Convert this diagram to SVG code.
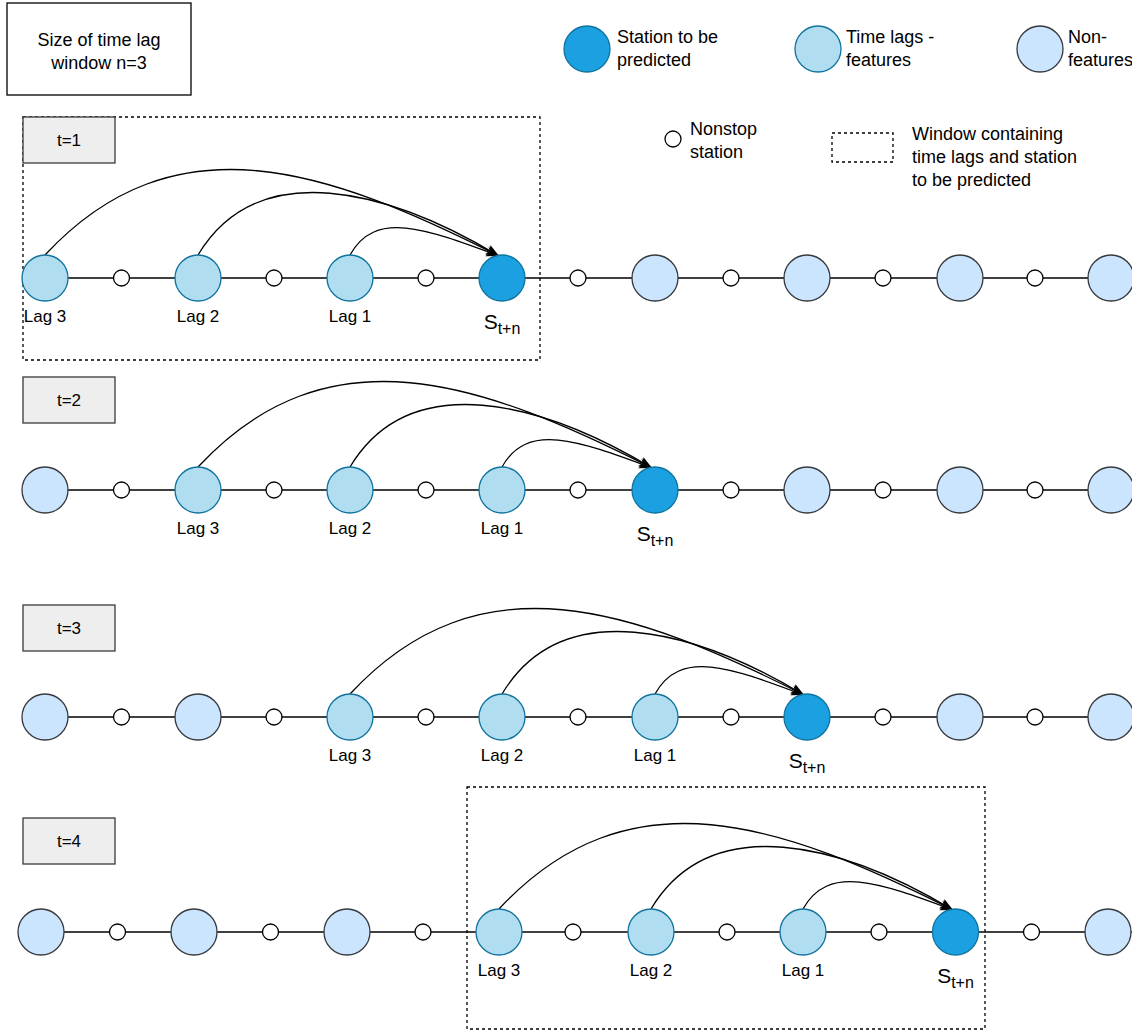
<svg xmlns="http://www.w3.org/2000/svg" width="1132" height="1031" viewBox="0 0 1132 1031">
<style>
text{font-family:"Liberation Sans",Arial,Helvetica,sans-serif;fill:#000}
.lg{font-size:18px}
.lb{font-size:17px;text-anchor:middle}
.tl{font-size:17px;text-anchor:middle}
.pred{fill:#1ba1e2;stroke:#10739e;stroke-width:1.3}
.lag{fill:#b1ddf0;stroke:#10739e;stroke-width:1.3}
.non{fill:#cce5ff;stroke:#36393d;stroke-width:1.3}
.stop{fill:#fff;stroke:#000;stroke-width:1.3}
.tbox{fill:#eeeeee;stroke:#36393d;stroke-width:1.3}
.win{fill:none;stroke:#000;stroke-width:1.3;stroke-dasharray:3 3}
.track{stroke:#000;stroke-width:1.3;fill:none}
.arc{stroke:#000;stroke-width:1.3;fill:none;marker-end:url(#arr)}
</style>
<defs>
<marker id="arr" markerWidth="14" markerHeight="11" refX="13" refY="5" orient="auto" markerUnits="userSpaceOnUse">
<path d="M0,0 L13,5 L0,10 L3.5,5 Z" fill="#000"/>
</marker>
</defs>
<rect width="1132" height="1031" fill="#fff"/>

<!-- Legend -->
<g id="legend-size">
<rect x="7" y="3" width="184" height="92" fill="#fff" stroke="#000" stroke-width="1.3"/>
<text class="lg" x="99" y="46" text-anchor="middle">Size of time lag</text>
<text class="lg" x="99" y="69" text-anchor="middle">window n=3</text>
</g>
<g id="legend-pred">
<ellipse class="pred" cx="587" cy="49" rx="23" ry="23"/>
<text class="lg" x="617" y="43">Station to be</text>
<text class="lg" x="617" y="66">predicted</text>
</g>
<g id="legend-lag">
<ellipse class="lag" cx="818" cy="49" rx="23" ry="23"/>
<text class="lg" x="846" y="43">Time lags -</text>
<text class="lg" x="846" y="66">features</text>
</g>
<g id="legend-non">
<ellipse class="non" cx="1040" cy="49" rx="23" ry="23"/>
<text class="lg" x="1068" y="43">Non-</text>
<text class="lg" x="1068" y="66">features</text>
</g>
<g id="legend-stop">
<circle class="stop" cx="673" cy="139" r="8"/>
<text class="lg" x="690" y="135">Nonstop</text>
<text class="lg" x="690" y="158">station</text>
</g>
<g id="legend-window">
<rect class="win" x="832" y="133" width="61" height="29"/>
<text class="lg" x="912" y="140">Window containing</text>
<text class="lg" x="912" y="163">time lags and station</text>
<text class="lg" x="912" y="186">to be predicted</text>
</g>

<!-- Windows -->
<g id="window-t1"><rect class="win" x="23" y="117" width="517" height="243"/></g>
<g id="window-t4"><rect class="win" x="467" y="787" width="518" height="242"/></g>

<!-- Track lines and arcs -->
<g id="connectors">
<line class="track" x1="45" y1="278" x2="1132" y2="278"/>
<line class="track" x1="45" y1="490" x2="1132" y2="490"/>
<line class="track" x1="45" y1="717" x2="1132" y2="717"/>
<line class="track" x1="41" y1="932" x2="1132" y2="932"/>
<!-- row 1 -->
<path class="arc" d="M45,255 C175,115 329,170 499,256"/>
<path class="arc" d="M198,255 C258,155 389,190 499,256"/>
<path class="arc" d="M350,255 C375,210 424,228 499,256"/>
<!-- row 2 -->
<path class="arc" d="M198,467 C328,327 482,382 652,468"/>
<path class="arc" d="M350,467 C410,367 542,402 652,468"/>
<path class="arc" d="M502,467 C527,422 577,440 652,468"/>
<!-- row 3 -->
<path class="arc" d="M350,694 C480,554 634,609 804,695"/>
<path class="arc" d="M502,694 C562,594 694,629 804,695"/>
<path class="arc" d="M655,694 C680,649 729,667 804,695"/>
<!-- row 4 -->
<path class="arc" d="M499,909 C629,769 783,824 953,910"/>
<path class="arc" d="M651,909 C711,809 843,844 953,910"/>
<path class="arc" d="M803,909 C828,864 878,882 953,910"/>
</g>

<!-- Time step labels -->
<g id="t1"><rect class="tbox" x="23" y="117" width="92" height="46"/><text class="tl" x="69" y="146">t=1</text></g>
<g id="t2"><rect class="tbox" x="23" y="377" width="92" height="46"/><text class="tl" x="69" y="406">t=2</text></g>
<g id="t3"><rect class="tbox" x="23" y="605" width="92" height="46"/><text class="tl" x="69" y="634">t=3</text></g>
<g id="t4"><rect class="tbox" x="23" y="818" width="92" height="46"/><text class="tl" x="69" y="847">t=4</text></g>

<!-- Row 1 -->
<g id="row1-stops">
<circle class="stop" cx="121.5" cy="278" r="8"/><circle class="stop" cx="274" cy="278" r="8"/><circle class="stop" cx="426" cy="278" r="8"/><circle class="stop" cx="578" cy="278" r="8"/><circle class="stop" cx="731" cy="278" r="8"/><circle class="stop" cx="883" cy="278" r="8"/><circle class="stop" cx="1035" cy="278" r="8"/>
</g>
<g id="r1-lag3"><ellipse class="lag" cx="45" cy="278" rx="23" ry="23"/><text class="lb" x="45" y="322">Lag 3</text></g>
<g id="r1-lag2"><ellipse class="lag" cx="198" cy="278" rx="23" ry="23"/><text class="lb" x="198" y="322">Lag 2</text></g>
<g id="r1-lag1"><ellipse class="lag" cx="350" cy="278" rx="23" ry="23"/><text class="lb" x="350" y="322">Lag 1</text></g>
<g id="r1-s"><ellipse class="pred" cx="502" cy="278" rx="23" ry="23"/><text x="502" y="329" text-anchor="middle" font-size="21">S<tspan font-size="16" dy="5">t+n</tspan></text></g>
<g id="r1-n1"><ellipse class="non" cx="655" cy="278" rx="23" ry="23"/></g>
<g id="r1-n2"><ellipse class="non" cx="807" cy="278" rx="23" ry="23"/></g>
<g id="r1-n3"><ellipse class="non" cx="960" cy="278" rx="23" ry="23"/></g>
<g id="r1-n4"><ellipse class="non" cx="1111" cy="278" rx="23" ry="23"/></g>

<!-- Row 2 -->
<g id="row2-stops">
<circle class="stop" cx="121.5" cy="490" r="8"/><circle class="stop" cx="274" cy="490" r="8"/><circle class="stop" cx="426" cy="490" r="8"/><circle class="stop" cx="578" cy="490" r="8"/><circle class="stop" cx="731" cy="490" r="8"/><circle class="stop" cx="883" cy="490" r="8"/><circle class="stop" cx="1035" cy="490" r="8"/>
</g>
<g id="r2-n0"><ellipse class="non" cx="45" cy="490" rx="23" ry="23"/></g>
<g id="r2-lag3"><ellipse class="lag" cx="198" cy="490" rx="23" ry="23"/><text class="lb" x="198" y="534">Lag 3</text></g>
<g id="r2-lag2"><ellipse class="lag" cx="350" cy="490" rx="23" ry="23"/><text class="lb" x="350" y="534">Lag 2</text></g>
<g id="r2-lag1"><ellipse class="lag" cx="502" cy="490" rx="23" ry="23"/><text class="lb" x="502" y="534">Lag 1</text></g>
<g id="r2-s"><ellipse class="pred" cx="655" cy="490" rx="23" ry="23"/><text x="655" y="541" text-anchor="middle" font-size="21">S<tspan font-size="16" dy="5">t+n</tspan></text></g>
<g id="r2-n1"><ellipse class="non" cx="807" cy="490" rx="23" ry="23"/></g>
<g id="r2-n2"><ellipse class="non" cx="960" cy="490" rx="23" ry="23"/></g>
<g id="r2-n3"><ellipse class="non" cx="1111" cy="490" rx="23" ry="23"/></g>

<!-- Row 3 -->
<g id="row3-stops">
<circle class="stop" cx="121.5" cy="717" r="8"/><circle class="stop" cx="274" cy="717" r="8"/><circle class="stop" cx="426" cy="717" r="8"/><circle class="stop" cx="578" cy="717" r="8"/><circle class="stop" cx="731" cy="717" r="8"/><circle class="stop" cx="883" cy="717" r="8"/><circle class="stop" cx="1035" cy="717" r="8"/>
</g>
<g id="r3-n0"><ellipse class="non" cx="45" cy="717" rx="23" ry="23"/></g>
<g id="r3-n1"><ellipse class="non" cx="198" cy="717" rx="23" ry="23"/></g>
<g id="r3-lag3"><ellipse class="lag" cx="350" cy="717" rx="23" ry="23"/><text class="lb" x="350" y="761">Lag 3</text></g>
<g id="r3-lag2"><ellipse class="lag" cx="502" cy="717" rx="23" ry="23"/><text class="lb" x="502" y="761">Lag 2</text></g>
<g id="r3-lag1"><ellipse class="lag" cx="655" cy="717" rx="23" ry="23"/><text class="lb" x="655" y="761">Lag 1</text></g>
<g id="r3-s"><ellipse class="pred" cx="807" cy="717" rx="23" ry="23"/><text x="807" y="768" text-anchor="middle" font-size="21">S<tspan font-size="16" dy="5">t+n</tspan></text></g>
<g id="r3-n2"><ellipse class="non" cx="960" cy="717" rx="23" ry="23"/></g>
<g id="r3-n3"><ellipse class="non" cx="1111" cy="717" rx="23" ry="23"/></g>

<!-- Row 4 -->
<g id="row4-stops">
<circle class="stop" cx="117.5" cy="932" r="8"/><circle class="stop" cx="270.5" cy="932" r="8"/><circle class="stop" cx="423" cy="932" r="8"/><circle class="stop" cx="573" cy="932" r="8"/><circle class="stop" cx="727" cy="932" r="8"/><circle class="stop" cx="879" cy="932" r="8"/><circle class="stop" cx="1031.5" cy="932" r="8"/>
</g>
<g id="r4-n0"><ellipse class="non" cx="41" cy="932" rx="23" ry="23"/></g>
<g id="r4-n1"><ellipse class="non" cx="194" cy="932" rx="23" ry="23"/></g>
<g id="r4-n2"><ellipse class="non" cx="347" cy="932" rx="23" ry="23"/></g>
<g id="r4-lag3"><ellipse class="lag" cx="499" cy="932" rx="23" ry="23"/><text class="lb" x="499" y="976">Lag 3</text></g>
<g id="r4-lag2"><ellipse class="lag" cx="651" cy="932" rx="23" ry="23"/><text class="lb" x="651" y="976">Lag 2</text></g>
<g id="r4-lag1"><ellipse class="lag" cx="803" cy="932" rx="23" ry="23"/><text class="lb" x="803" y="976">Lag 1</text></g>
<g id="r4-s"><ellipse class="pred" cx="955.5" cy="932" rx="23" ry="23"/><text x="955.5" y="983" text-anchor="middle" font-size="21">S<tspan font-size="16" dy="5">t+n</tspan></text></g>
<g id="r4-n3"><ellipse class="non" cx="1108" cy="932" rx="23" ry="23"/></g>
</svg>
